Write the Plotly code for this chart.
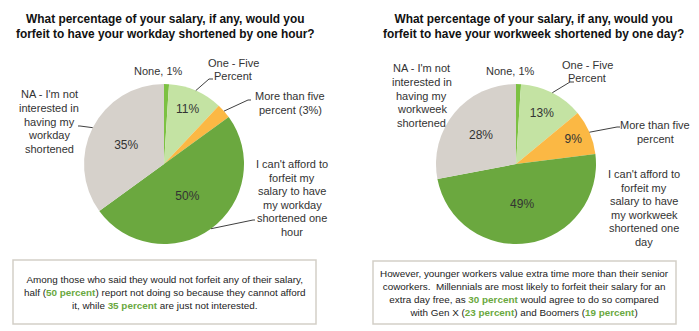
import math
import plotly.graph_objects as go

W, H = 699, 331

categories = ["None", "One - Five Percent", "More than five percent",
              "I can't afford to forfeit my salary", "NA - I'm not interested"]
day_values = [1, 11, 3, 50, 35]      # workday shortened by one hour
week_values = [1, 13, 9, 49, 28]     # workweek shortened by one day
day_inside = ["", "11%", "", "50%", "35%"]
week_inside = ["", "13%", "9%", "49%", "28%"]
colors = ["#7cc142", "#c4e3a3", "#fbb844", "#6ba83f", "#d6d1cb"]

titles = [
    "What percentage of your salary, if any, would you<br>forfeit to have your workday shortened by one hour?",
    "What percentage of your salary, if any, would you<br>forfeit to have your workweek shortened by one day?",
]

day_labels = ["None, 1%", "One - Five<br>Percent", "More than five<br>percent (3%)",
              "I can't afford to<br>forfeit my<br>salary to have<br>my workday<br>shortened one<br>hour",
              "NA - I'm not<br>interested in<br>having my<br>workday<br>shortened"]
week_labels = ["None, 1%", "One - Five<br>Percent", "More than five<br>percent",
               "I can't afford to<br>forfeit my<br>salary to have<br>my workweek<br>shortened one<br>day",
               "NA - I'm not<br>interested in<br>having my<br>workweek<br>shortened"]

GREEN = "#6aa840"
notes = [
    "Among those who said they would not forfeit any of their salary,<br>"
    f"half (<b><span style='color:{GREEN}'>50 percent</span></b>) report not doing so because they cannot afford<br>"
    f"it, while <b><span style='color:{GREEN}'>35 percent</span></b> are just not interested.",
    "However, younger workers value extra time more than their senior<br>"
    "coworkers.  Millennials are most likely to forfeit their salary for an<br>"
    f"extra day free, as <b><span style='color:{GREEN}'>30 percent</span></b> would agree to do so compared<br>"
    f"with Gen X (<b><span style='color:{GREEN}'>23 percent</span></b>) and Boomers (<b><span style='color:{GREEN}'>19 percent</span></b>)",
]

# ---- layout constants (pixels) ----
R = 80
LINE_H = 13.6
centers = [(164, 164), (516, 164)]
title_x = [165, 533]
box_rects = [(13, 260, 316, 324), (373, 261, 676, 324)]
label_pos = [
    [(158, 71), (233, 69.5), (290, 103), (292, 198), (49, 121.5)],
    [(510, 71), (587, 71.5), (655, 132), (644, 208), (422, 95.5)],
]
# leader lines: (slice index, bend point, end point)
leaders = [
    [(1, (209, 79), (213, 79)), (2, (248, 100), (251, 100)), (3, (253, 220), (255, 220)), (4, (80, 126), (78, 126))],
    [(1, (570, 82), (574, 82)), (2, (617, 127), (620, 127))],
]


def px(x):
    return x / W


def py(y):
    return 1 - y / H


def edge_point(values, idx, center):
    tot = sum(values)
    cum = sum(values[:idx]) + values[idx] / 2
    ang = 2 * math.pi * cum / tot
    return center[0] + R * math.sin(ang), center[1] - R * math.cos(ang)


fig = go.Figure()
annotations = []
shapes = []
for k, (vals, inside, labels) in enumerate([(day_values, day_inside, day_labels),
                                            (week_values, week_inside, week_labels)]):
    cx, cy = centers[k]
    fig.add_trace(go.Pie(
        labels=categories, values=vals, text=inside,
        textinfo="text", textposition="inside", insidetextorientation="horizontal",
        textfont=dict(family="Liberation Sans, Arial", size=12, color="#333333"),
        marker=dict(colors=colors, line=dict(width=0)),
        sort=False, direction="clockwise", rotation=0,
        domain=dict(x=[px(cx - R), px(cx + R)], y=[py(cy + R), py(cy - R)]),
        showlegend=False, hoverinfo="label+value",
    ))
    annotations.append(dict(
        x=px(title_x[k]), y=py(26), xref="paper", yref="paper", text=f"<b>{titles[k]}</b>",
        showarrow=False, font=dict(family="Liberation Sans, Arial", size=11.9, color="#111111"),
        xanchor="center", yanchor="middle", align="center"))
    for i, (lx, ly) in enumerate(label_pos[k]):
        lines = labels[i].split("<br>")
        top = ly - (len(lines) - 1) * LINE_H / 2
        for j, line in enumerate(lines):
            annotations.append(dict(
                x=px(lx), y=py(top + j * LINE_H), xref="paper", yref="paper", text=line,
                showarrow=False, font=dict(family="Liberation Sans, Arial", size=11, color="#333333"),
                xanchor="center", yanchor="middle", align="center"))
    for (idx, bend, end) in leaders[k]:
        ex, ey = edge_point(vals, idx, centers[k])
        path = f"M {px(ex)},{py(ey)} L {px(bend[0])},{py(bend[1])} L {px(end[0])},{py(end[1])}"
        shapes.append(dict(type="path", path=path, xref="paper", yref="paper",
                           line=dict(color="#404040", width=1)))
    x0, y0, x1, y1 = box_rects[k]
    shapes.append(dict(type="rect", xref="paper", yref="paper", x0=px(x0), x1=px(x1),
                       y0=py(y1), y1=py(y0), line=dict(color="#d3cfc7", width=1.5)))
    annotations.append(dict(
        x=px((x0 + x1) / 2), y=py((y0 + y1) / 2 + 0.5), xref="paper", yref="paper", text=notes[k],
        showarrow=False, font=dict(family="Liberation Sans, Arial", size=9.9, color="#222222"),
        xanchor="center", yanchor="middle", align="center"))

fig.update_layout(
    width=W, height=H, margin=dict(l=0, r=0, t=0, b=0),
    paper_bgcolor="white", plot_bgcolor="white",
    annotations=annotations, shapes=shapes,
)
fig.write_html("out.html")
